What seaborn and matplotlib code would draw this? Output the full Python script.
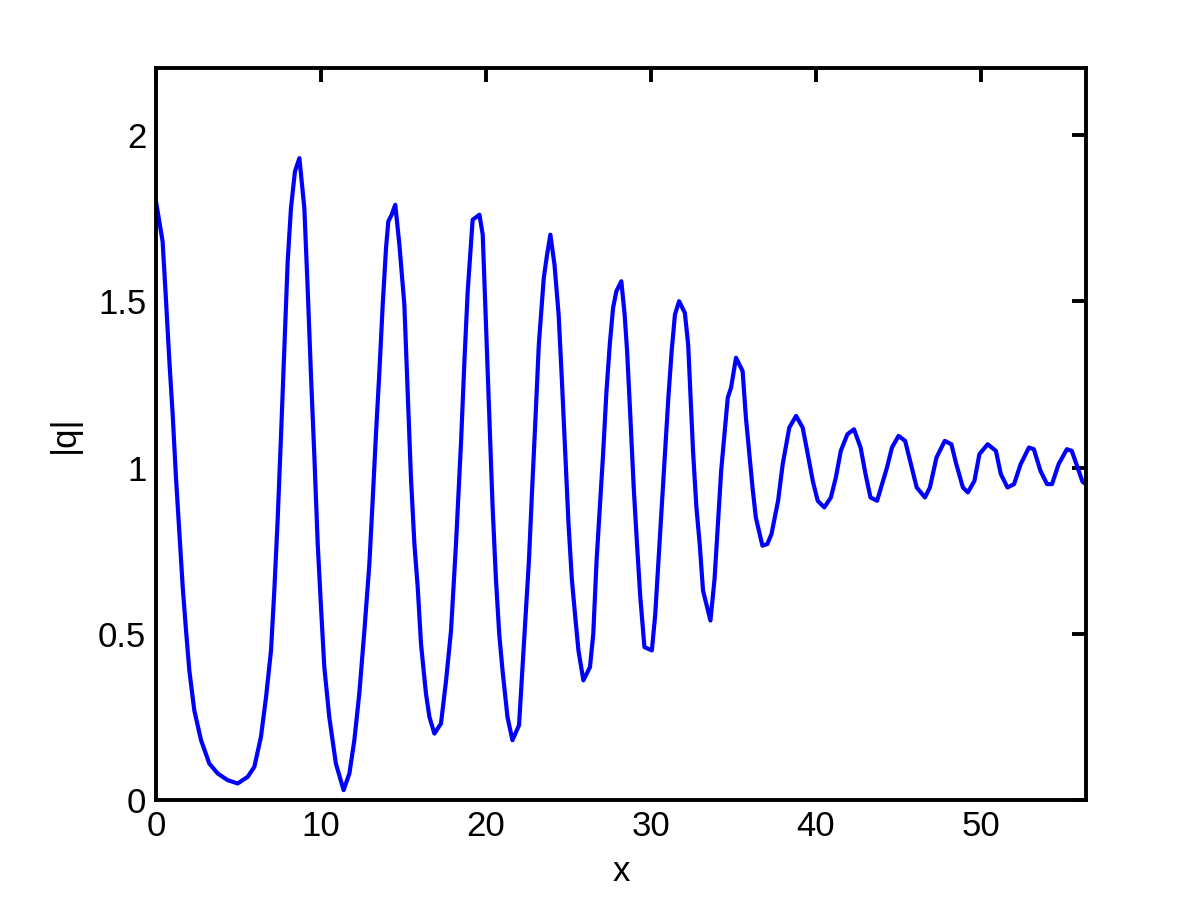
import numpy as np
import pandas as pd
import seaborn as sns
import matplotlib
matplotlib.use("Agg")
import matplotlib.pyplot as plt

# values
x_vals = [0.0, 0.40, 0.61, 0.81, 1.01, 1.21, 1.41, 1.62, 1.82, 2.02, 2.32, 2.73, 3.23, 3.74,
          4.34, 4.95, 5.56, 5.96, 6.36, 6.67, 6.97, 7.17, 7.37, 7.58, 7.78, 7.98, 8.18, 8.42,
          8.69, 8.99, 9.19, 9.39, 9.60, 9.80, 10.0, 10.2, 10.5, 10.9, 11.37, 11.72, 12.02,
          12.32, 12.63, 12.93, 13.13, 13.33, 13.54, 13.74, 13.94, 14.08, 14.28, 14.5, 14.75,
          15.05, 15.25, 15.45, 15.66, 15.86, 16.06, 16.36, 16.57, 16.87, 17.27, 17.58, 17.88,
          18.18, 18.49, 18.69, 18.89, 19.19, 19.6, 19.8, 20.0, 20.2, 20.4, 20.6, 20.8, 21.0,
          21.3, 21.6, 22.0, 22.2, 22.4, 22.6, 22.8, 23.0, 23.2, 23.5, 23.7, 23.9, 24.15, 24.4,
          24.6, 24.8, 25.0, 25.2, 25.4, 25.6, 25.9, 26.3, 26.5, 26.7, 26.9, 27.1, 27.3, 27.5,
          27.7, 27.9, 28.2, 28.4, 28.55, 28.75, 28.95, 29.15, 29.35, 29.6, 30.05, 30.25, 30.45,
          30.65, 30.85, 31.05, 31.25, 31.45, 31.7, 32.05, 32.25, 32.4, 32.55, 32.75, 32.95,
          33.15, 33.35, 33.6, 33.85, 34.05, 34.25, 34.45, 34.65, 34.85, 35.15, 35.55, 35.75,
          35.95, 36.15, 36.35, 36.75, 37.05, 37.3, 37.7, 37.98, 38.38, 38.79, 39.19, 39.5,
          39.8, 40.1, 40.5, 40.9, 41.2, 41.5, 41.9, 42.3, 42.7, 43.0, 43.3, 43.7, 44.0, 44.3,
          44.6, 45.0, 45.4, 45.7, 46.1, 46.6, 46.9, 47.3, 47.8, 48.2, 48.5, 48.9, 49.2, 49.6,
          49.9, 50.4, 50.9, 51.2, 51.6, 52.0, 52.4, 52.9, 53.2, 53.6, 54.0, 54.3, 54.7, 55.2,
          55.5, 56.15, 56.36]
q_vals = [1.80, 1.68, 1.50, 1.32, 1.16, 0.97, 0.81, 0.64, 0.51, 0.39, 0.27, 0.18, 0.11, 0.08,
          0.06, 0.05, 0.07, 0.10, 0.19, 0.31, 0.45, 0.63, 0.84, 1.10, 1.36, 1.62, 1.78, 1.89,
          1.93, 1.78, 1.54, 1.28, 1.03, 0.77, 0.58, 0.40, 0.25, 0.11, 0.03, 0.08, 0.18,
          0.32, 0.51, 0.71, 0.90, 1.10, 1.29, 1.49, 1.66, 1.74, 1.76, 1.79, 1.67,
          1.49, 1.23, 0.97, 0.77, 0.64, 0.47, 0.32, 0.25, 0.20, 0.23, 0.36, 0.51,
          0.77, 1.08, 1.32, 1.53, 1.745, 1.76, 1.70, 1.425, 1.15, 0.88, 0.665, 0.50, 0.39,
          0.25, 0.18, 0.225, 0.39, 0.555, 0.72, 0.94, 1.15, 1.37, 1.57, 1.64, 1.70, 1.61, 1.46,
          1.26, 1.045, 0.83, 0.665, 0.555, 0.45, 0.36, 0.40, 0.50, 0.72, 0.88, 1.045, 1.23, 1.37,
          1.48, 1.53, 1.56, 1.46, 1.35, 1.15, 0.94, 0.77, 0.61, 0.46, 0.45, 0.555, 0.72,
          0.88, 1.045, 1.21, 1.35, 1.46, 1.50, 1.465, 1.37, 1.21, 1.045, 0.88, 0.77,
          0.63, 0.59, 0.54, 0.665, 0.83, 0.99, 1.10, 1.21, 1.24, 1.33, 1.29, 1.15,
          1.045, 0.94, 0.85, 0.765, 0.77, 0.80, 0.90, 1.01, 1.12, 1.155, 1.12, 1.04,
          0.96, 0.90, 0.88, 0.91, 0.97, 1.05, 1.10, 1.115, 1.06, 0.98, 0.91, 0.90, 0.95, 1.00,
          1.06, 1.095, 1.08, 1.02, 0.94, 0.91, 0.94, 1.03, 1.08, 1.07, 1.01, 0.94, 0.925, 0.96,
          1.04, 1.07, 1.05, 0.98, 0.94, 0.95, 1.01, 1.06, 1.055, 0.99, 0.95, 0.95, 1.01, 1.055,
          1.05, 0.957, 0.95]

x_ticks = [0, 10, 20, 30, 40, 50]
y_ticks = [0, 0.5, 1, 1.5, 2]
y_tick_labels = ["0", "0.5", "1", "1.5", "2"]

sns.set_style("white")
plt.rcParams["font.family"] = ["Liberation Sans", "DejaVu Sans"]

df = pd.DataFrame({"x": x_vals, "q": q_vals})

fig = plt.figure(figsize=(12, 9), dpi=100, facecolor="white")
ax = fig.add_axes([0.13, 0.111, 0.775, 0.813])
sns.lineplot(data=df, x="x", y="q", sort=False, estimator=None,
             color="#0000ff", linewidth=3.0, ax=ax)

ax.set_xlim(0, 56.36)
ax.set_ylim(0, 2.2)
ax.set_xticks(x_ticks)
ax.set_yticks(y_ticks)
ax.set_yticklabels(y_tick_labels)
ax.tick_params(direction="in", length=10, width=2.8, labelsize=25,
               top=True, right=True, pad=7, colors="black")
for sp in ax.spines.values():
    sp.set_linewidth(2.8)
    sp.set_color("black")
ax.set_xlabel("x", fontsize=25, labelpad=9, color="black")
ax.set_ylabel("|q|", fontsize=25, labelpad=12, color="black")

fig.savefig("out.png", dpi=100, facecolor="white")
